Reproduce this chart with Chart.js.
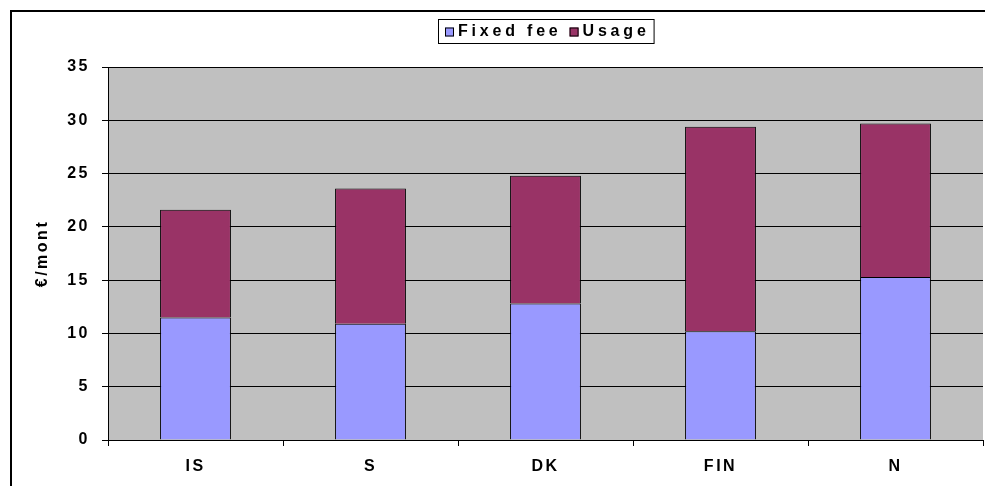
<!DOCTYPE html>
<html>
<head>
<meta charset="utf-8">
<script src="https://cdn.jsdelivr.net/npm/chart.js@4"></script>
<style>
  html, body { margin: 0; padding: 0; background: #ffffff; }
  #wrap { width: 985px; height: 486px; position: relative; }
</style>
</head>
<body>
<div id="wrap"><canvas id="c" width="985" height="486"></canvas></div>
<script>
const categories = ['IS', 'S', 'DK', 'FIN', 'N'];
const fixedFee = [11.5, 10.9, 12.8, 10.2, 15.3];
const usage = [10.1, 12.7, 12.0, 19.2, 14.4];
const seriesNames = ['Fixed fee', 'Usage'];
const seriesColors = ['#9999FF', '#993366'];
const yTitle = '€/mont';
const yMin = 0, yMax = 35, yStep = 5;

const FAMILY = '"Liberation Sans", Arial, sans-serif';
const FONT = 'bold 16px ' + FAMILY;
const SPACING = '2.5px';

const framePlugin = {
  id: 'frame',
  beforeDraw(chart) {
    const ctx = chart.ctx;
    const a = chart.chartArea;
    ctx.save();
    ctx.fillStyle = '#ffffff';
    ctx.fillRect(0, 0, chart.width, chart.height);
    ctx.strokeStyle = '#000000';
    ctx.lineWidth = 2;
    ctx.strokeRect(11, 11, chart.width + 20, chart.height + 20);
    ctx.fillStyle = '#C0C0C0';
    ctx.fillRect(a.left, a.top, a.right - a.left, a.bottom - a.top);
    ctx.restore();
    ctx.letterSpacing = SPACING;
  },
  afterDraw(chart) {
    const ctx = chart.ctx;
    ctx.save();
    ctx.letterSpacing = '3.8px';
    ctx.font = FONT;
    const boxY = 19, boxH = 24;
    const sq = 9, gapSq = 4, gapItem = 8, pad = 7;
    const widths = seriesNames.map(n => ctx.measureText(n).width);
    let total = pad;
    widths.forEach((w, i) => { total += sq + gapSq + w + (i < widths.length - 1 ? gapItem : 0); });
    total += pad - 3;
    const a = chart.chartArea;
    const x0 = Math.round((a.left + a.right) / 2 - total / 2);
    ctx.fillStyle = '#ffffff';
    ctx.fillRect(x0, boxY, total, boxH);
    ctx.strokeStyle = '#000000';
    ctx.lineWidth = 1;
    ctx.strokeRect(x0 + 0.5, boxY + 0.5, total, boxH);
    let x = x0 + pad;
    const cy = boxY + boxH / 2 + 1;
    seriesNames.forEach((n, i) => {
      ctx.fillStyle = seriesColors[i];
      ctx.fillRect(x, cy - sq / 2, sq, sq);
      ctx.strokeRect(x + 0.5, cy - sq / 2 + 0.5, sq - 1, sq - 1);
      x += sq + gapSq;
      ctx.fillStyle = '#000000';
      ctx.textBaseline = 'middle';
      ctx.textAlign = 'left';
      ctx.fillText(n, x, cy);
      x += widths[i] + gapItem;
    });
    ctx.restore();
  }
};

new Chart(document.getElementById('c'), {
  type: 'bar',
  data: {
    labels: categories,
    datasets: [
      { label: seriesNames[0], data: fixedFee, backgroundColor: seriesColors[0], borderColor: '#000000', borderWidth: 1, barPercentage: 0.405, categoryPercentage: 1 },
      { label: seriesNames[1], data: usage, backgroundColor: seriesColors[1], borderColor: '#000000', borderWidth: 1, barPercentage: 0.405, categoryPercentage: 1 }
    ]
  },
  plugins: [framePlugin],
  options: {
    responsive: false,
    animation: false,
    events: [],
    layout: { padding: { top: 67, right: 2, bottom: 0, left: 0 } },
    plugins: { legend: { display: false }, tooltip: { enabled: false } },
    scales: {
      x: {
        stacked: true,
        offset: true,
        grid: { offset: true, drawOnChartArea: false, drawTicks: true, tickLength: 6, color: '#000000', lineWidth: 1 },
        border: { display: true, color: '#000000', width: 1 },
        ticks: { color: '#000000', font: { family: FAMILY, size: 16, weight: 'bold' }, padding: 11, maxRotation: 0 },
        afterFit(scale) { scale.height = 46; }
      },
      y: {
        stacked: true,
        min: yMin, max: yMax,
        grid: { color: '#000000', lineWidth: 1, drawTicks: true, tickLength: 6 },
        border: { display: true, color: '#000000', width: 1 },
        ticks: { stepSize: yStep, color: '#000000', font: { family: FAMILY, size: 16, weight: 'bold' }, padding: 12 },
        title: { display: true, text: yTitle, color: '#000000', font: { family: FAMILY, size: 16, weight: 'bold' }, padding: { top: 33, bottom: 0 } },
        afterFit(scale) { scale.width = 108; }
      }
    }
  }
});
</script>
</body>
</html>
